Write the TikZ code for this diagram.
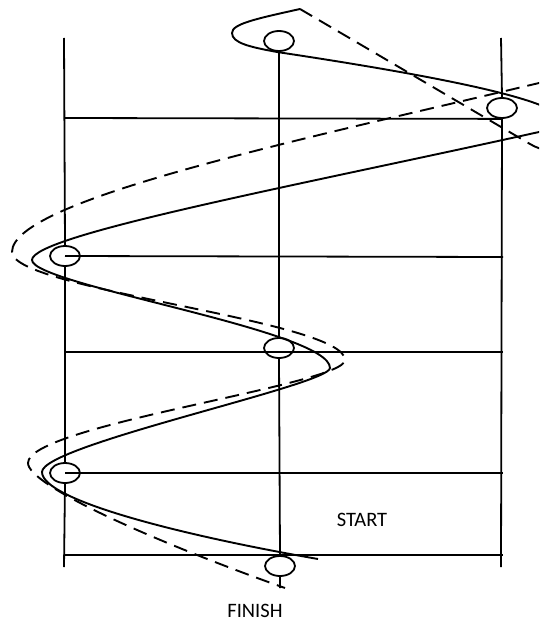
\documentclass[tikz,border=0pt]{standalone}
\usepackage{fontspec}
\setmainfont{Carlito}
\usetikzlibrary{shapes.geometric}
\definecolor{inkC}{HTML}{000000}
\tikzset{
  rail/.style={draw=inkC, line width=1.8pt},
  ring/.style={ellipse, draw=inkC, line width=1.8pt, minimum width=30pt, minimum height=20pt, inner sep=0pt},
  solidpath/.style={draw=inkC, line width=1.9pt},
  dashpath/.style={draw=inkC, line width=1.9pt, dash pattern=on 14pt off 8pt},
  lab/.style={font=\fontsize{20.5}{24}\selectfont, text=inkC, inner sep=0pt},
}

\begin{document}
\begin{tikzpicture}[x=1pt, y=-1pt]
\useasboundingbox (0,0) rectangle (539,623);
\node[ring] (topc) at (279,41) {};
\node[ring] (rightc) at (502,108) {};
\node[ring] (leftc) at (65,256) {};
\node[ring] (midc) at (279,348) {};
\node[ring] (lowc) at (65,473) {};
\node[ring] (botc) at (280,566) {};
\coordinate (lt) at (64,38);
\coordinate (lb) at (64,567);
\coordinate (rt) at (501,38);
\coordinate (rb) at (501,567);
\coordinate (mb) at (280,588);
\coordinate (h1) at (64,118);
\coordinate (h2) at (503,257);
\coordinate (h3a) at (64,352);
\coordinate (h3b) at (503,352);
\coordinate (h4) at (503,473);
\coordinate (h5a) at (64,555);
\coordinate (h5b) at (503,555);
\draw[rail] (lt) -- (leftc.north) (leftc.south) -- (lowc.north) (lowc.south) -- (lb);
\draw[rail] (rt) -- (rightc.north) (rightc.south) -- (rb);
\draw[rail] (topc.south) -- (midc.north) (midc.south) -- (botc.north) (botc.south) -- (mb);
\draw[rail] (h1) -- (rightc.south);
\draw[rail] (leftc.center) -- (h2);
\draw[rail] (h3a) -- (h3b);
\draw[rail] (lowc.center) -- (h4);
\draw[rail] (h5a) -- (h5b);
\begin{scope}
\clip (0,0) rectangle (539,623);
\draw[solidpath] (300,9) .. controls (255,19) and (232,24) .. (232,33)
  .. controls (232,43) and (250,47) .. (277,52)
  .. controls (430,75) and (562,100) .. (562,121)
  .. controls (562,130) and (550,130) .. (539,132)
  .. controls (300,185) and (32,235) .. (32,260)
  .. controls (32,285) and (330,330) .. (330,368)
  .. controls (330,385) and (42,445) .. (42,472)
  .. controls (42,500) and (180,535) .. (318,559);
\draw[dashpath] (300,9) -- (530,144)
  .. controls (555,159) and (578,145) .. (578,120)
  .. controls (578,95) and (565,77) .. (539,83)
  .. controls (300,140) and (12,200) .. (12,252)
  .. controls (12,290) and (345,320) .. (345,360)
  .. controls (345,385) and (28,425) .. (28,463)
  .. controls (28,485) and (150,540) .. (285,588);
\end{scope}
\node[lab] (start) at (362,520) {START};
\node[lab] (finish) at (255,611) {FINISH};
\end{tikzpicture}
\end{document}
